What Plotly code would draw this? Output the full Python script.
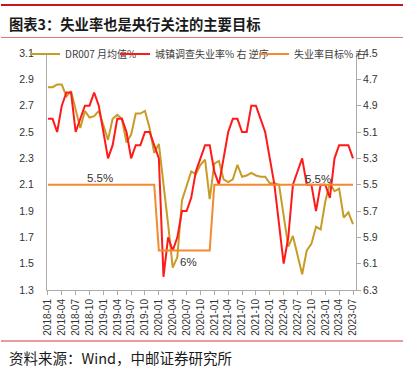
import plotly.graph_objects as go

# ---------------- data ----------------
months = [f"{y}-{m:02d}" for y in range(2018, 2024) for m in range(1, 13)][:67]  # 2018-01 .. 2023-07

dr007 = [2.84, 2.84, 2.86, 2.86, 2.77, 2.81, 2.67, 2.53, 2.66, 2.61, 2.62, 2.66,
         2.55, 2.44, 2.60, 2.63, 2.60, 2.42, 2.48, 2.64, 2.64, 2.66, 2.53, 2.34,
         2.41, 2.12, 1.80, 1.47, 1.55, 1.98, 2.10, 2.20, 2.18, 2.25, 2.29, 1.99,
         2.26, 2.28, 2.14, 2.12, 2.14, 2.25, 2.16, 2.17, 2.19, 2.17, 2.16, 2.16,
         2.11, 2.11, 2.10, 1.87, 1.63, 1.71, 1.56, 1.42, 1.60, 1.65, 1.78, 1.76,
         1.97, 2.11, 2.05, 2.07, 1.85, 1.89, 1.80]

unemp = [5.0, 5.0, 5.1, 4.9, 4.8, 4.8, 5.1, 5.0, 4.9, 4.9, 4.8, 4.9,
         5.1, 5.3, 5.2, 5.0, 5.0, 5.1, 5.3, 5.2, 5.2, 5.1, 5.1, 5.2,
         5.3, 6.2, 5.9, 6.0, 5.9, 5.7, 5.7, 5.6, 5.4, 5.3, 5.2, 5.2,
         5.4, 5.5, 5.3, 5.1, 5.0, 5.0, 5.1, 5.1, 4.9, 4.9, 5.0, 5.1,
         5.3, 5.5, 5.8, 6.1, 5.9, 5.5, 5.4, 5.3, 5.5, 5.5, 5.7, 5.5,
         5.5, 5.6, 5.3, 5.2, 5.2, 5.2, 5.3]

target = [5.5] * 24 + [6.0] * 12 + [5.5] * 31

series_names = ["DR007 月均值%", "城镇调查失业率% 右 逆序", "失业率目标% 右"]
target_labels = [("5.5%", 11.3, 5.45), ("6%", 30.5, 6.09), ("5.5%", 58.4, 5.46)]
left_ticks = [1.3, 1.5, 1.7, 1.9, 2.1, 2.3, 2.5, 2.7, 2.9, 3.1]
right_ticks = [4.5, 4.7, 4.9, 5.1, 5.3, 5.5, 5.7, 5.9, 6.1, 6.3]

title = "图表3：失业率也是央行关注的主要目标"
source = "资料来源：Wind，中邮证券研究所"

# ---------------- figure ----------------
GOLD = "#C79B26"
RED = "#FF1A1A"
ORANGE = "#F28A30"
FONT = "Liberation Sans, Noto Sans CJK SC"
CJK = "Noto Sans CJK SC"

fig = go.Figure()
fig.add_trace(go.Scatter(x=months, y=dr007, name=series_names[0], mode="lines",
                         line=dict(color=GOLD, width=2), yaxis="y", legend="legend",
                         showlegend=True))
fig.add_trace(go.Scatter(x=months, y=unemp, name=series_names[1], mode="lines",
                         line=dict(color=RED, width=2), yaxis="y2", legend="legend2",
                         showlegend=True))
fig.add_trace(go.Scatter(x=months, y=target, name=series_names[2], mode="lines",
                         line=dict(color=ORANGE, width=2), yaxis="y2", legend="legend3",
                         showlegend=True))

W, H = 404, 368
L, R, T, B = 47, 48, 53, 78
pw, ph = W - L - R, H - T - B


def px(xp):
    return (xp - L) / pw


def py(yp):
    return (H - B - yp) / ph


axis_line = "#ABABAB"
tickfont = dict(family=FONT, size=10.5, color="#333333")

fig.update_layout(
    width=W, height=H,
    showlegend=True,
    margin=dict(l=L, r=R, t=T, b=B),
    paper_bgcolor="white", plot_bgcolor="white",
    font=dict(family=FONT, color="#333333"),
    xaxis=dict(type="category", range=[-0.2, 66.65], tickvals=months[::3],
               tickangle=-90, ticks="outside", ticklen=4, tickcolor=axis_line,
               showline=True, linecolor=axis_line, linewidth=1, showgrid=False,
               tickfont=dict(family=FONT, size=10, color="#333333")),
    yaxis=dict(range=[1.3, 3.1], tickvals=left_ticks, tickformat=".1f",
               showline=True, linecolor=axis_line, linewidth=1, showgrid=False,
               zeroline=False, ticks="", tickfont=tickfont, ticklabelstandoff=10),
    yaxis2=dict(range=[6.3, 4.5], tickvals=right_ticks, tickformat=".1f",
                overlaying="y", side="right", showline=True, linecolor=axis_line,
                linewidth=1, showgrid=False, zeroline=False, ticks="outside",
                ticklen=4, tickcolor=axis_line, tickfont=tickfont),
)

leg_common = dict(orientation="h", yanchor="middle", y=py(54), xanchor="left",
                  bgcolor="rgba(0,0,0,0)", font=dict(family=CJK, size=10, color="#404040"),
                  itemwidth=30)
fig.update_layout(
    legend=dict(x=px(25), **leg_common),
    legend2=dict(x=px(115), **leg_common),
    legend3=dict(x=px(254), **leg_common),
)

for txt, xi, yv in target_labels:
    fig.add_annotation(x=xi, y=yv, xref="x", yref="y2", text=txt, showarrow=False,
                       font=dict(family=FONT, size=11.5, color="#333333"),
                       xanchor="center", yanchor="middle")

fig.add_annotation(x=px(7), y=py(24), xref="paper", yref="paper", text=f"<b>{title}</b>",
                   showarrow=False, xanchor="left", yanchor="middle",
                   font=dict(family=CJK, size=14.3, color="#1a1a1a"))
fig.add_annotation(x=px(7), y=py(357.5), xref="paper", yref="paper", text=source,
                   showarrow=False, xanchor="left", yanchor="middle",
                   font=dict(family=CJK, size=14.5, color="#1a1a1a"))

# decorative horizontal rules (header / footer)
rules = [(5, "#C8161D", 2), (37.5, "#E57373", 1), (341, "#EC9A9C", 2)]
for yp, col, wd in rules:
    fig.add_shape(type="line", xref="x domain", yref="y domain",
                  x0=px(1), x1=px(W - 1), y0=py(yp), y1=py(yp),
                  line=dict(color=col, width=wd), layer="above")

fig.write_html("out.html", config={"displayModeBar": False},
               post_script="document.body.style.margin='0';")
